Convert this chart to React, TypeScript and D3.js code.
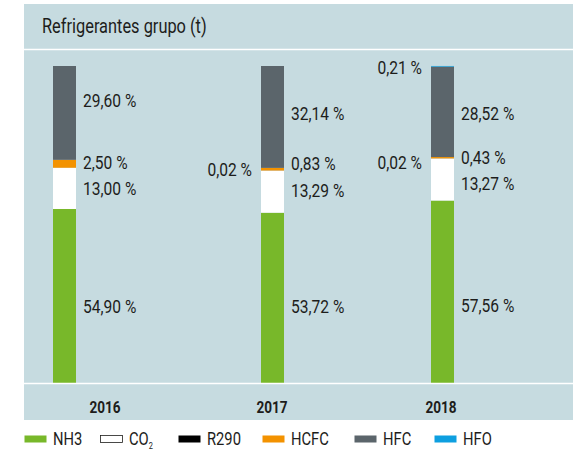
import React from "react";
import * as d3 from "d3";

const years = ["2016", "2017", "2018"];
const series = ["NH3", "CO2", "R290", "HCFC", "HFC", "HFO"];
const colors = ["#78b82a", "#ffffff", "#000000", "#f39200", "#5b656b", "#0e9fe0"];
const nh3 = [54.9, 53.72, 57.56];
const co2 = [13.0, 13.29, 13.27];
const r290 = [0, 0.02, 0.02];
const hcfc = [2.5, 0.83, 0.43];
const hfc = [29.6, 32.14, 28.52];
const hfo = [0, 0, 0.21];
const labelSide = ["right", "right", "left", "right", "right", "left"];

// layout nudges for label placement (px), per year per series
const nudges: number[][] = [
  [10, 0, 0, -1, -13, 0],
  [8, -1.5, -1, -6, -4, 0],
  [14, 3.5, 4, 0, 1, 1],
];

const W = 578;
const H = 451;
const FONT = "Roboto, 'Liberation Sans', sans-serif";
const SX = 0.82;

function T(props: {
  x: number;
  y: number;
  size: number;
  anchor?: string;
  weight?: string | number;
  sx?: number;
  children: React.ReactNode;
}) {
  const { x, y, size, anchor = "start", weight = "normal", sx = SX, children } = props;
  return (
    <text
      transform={`translate(${x},${y}) scale(${sx},1)`}
      dy="0.35em"
      textAnchor={anchor}
      fontSize={size}
      fontWeight={weight}
      fill="#1d1d1b"
    >
      {children}
    </text>
  );
}

export default function App() {
  const values = [nh3, co2, r290, hcfc, hfc, hfo];
  const table = years.map((y, i) => {
    const row: any = { year: y };
    series.forEach((s, j) => (row[s] = values[j][i]));
    return row;
  });
  const stack = d3.stack<any>().keys(series)(table);

  const y = d3.scaleLinear().domain([0, 100]).range([383, 66]);
  const barX = d3.scaleOrdinal<string, number>().domain(years).range([53, 261, 431]);
  const labelX = d3.scaleOrdinal<string, number>().domain(years).range([105, 272, 441]);
  const barW = 23;

  const fmt = (v: number) => v.toFixed(2).replace(".", ",") + " %";

  const legendX = [24, 100, 178, 262, 354, 434];

  return (
    <svg width={W} height={H} style={{ position: "absolute", left: 0, top: 0 }} fontFamily={FONT}>
      <rect x={24} y={4} width={549} height={416} fill="#c6dbe0" />
      <line x1={24} x2={573} y1={49.5} y2={49.5} stroke="#ffffff" strokeWidth={1.5} />
      <T x={42} y={26} size={20}>
        Refrigerantes grupo (t)
      </T>
      {stack.map((layer, j) =>
        layer.map((d, i) => {
          const h = y(d[0]) - y(d[1]);
          if (h <= 0) return null;
          return (
            <rect
              key={`${j}-${i}`}
              x={barX(years[i])}
              y={y(d[1])}
              width={barW}
              height={h}
              fill={colors[j]}
            />
          );
        })
      )}
      <line x1={24} x2={573} y1={383.5} y2={383.5} stroke="#ffffff" strokeWidth={1.5} />
      {stack.map((layer, j) =>
        layer.map((d, i) => {
          const v = values[j][i];
          if (!v) return null;
          const mid = (y(d[0]) + y(d[1])) / 2 + nudges[i][j];
          const left = labelSide[j] === "left";
          const bx = barX(years[i]);
          return (
            <T
              key={`l${j}-${i}`}
              x={left ? bx - 9 : bx + barW + 7}
              y={mid}
              anchor={left ? "end" : "start"}
              size={19}
            >
              {fmt(v)}
            </T>
          );
        })
      )}
      {years.map((yr) => (
        <T key={yr} x={labelX(yr)} y={407} anchor="middle" size={17} weight="bold" sx={0.8}>
          {yr}
        </T>
      ))}
      {series.map((s, j) => (
        <g key={s} transform={`translate(${legendX[j]},439)`}>
          <rect
            x={0.5}
            y={-3.5}
            width={22}
            height={7}
            fill={colors[j]}
            stroke={j === 1 ? "#1d1d1b" : "none"}
            strokeWidth={0.8}
          />
          <T x={29} y={0} size={18}>
            {s === "CO2" ? (
              <>
                CO
                <tspan fontSize={9} dy={4}>
                  2
                </tspan>
              </>
            ) : (
              s
            )}
          </T>
        </g>
      ))}
    </svg>
  );
}
